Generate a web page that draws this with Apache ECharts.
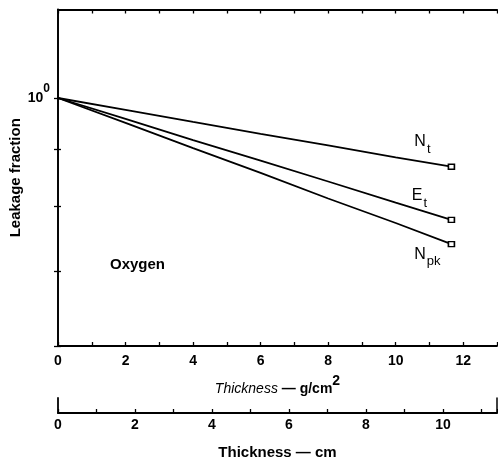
<!DOCTYPE html>
<html>
<head>
<meta charset="utf-8">
<script src="https://cdn.jsdelivr.net/npm/echarts@6/dist/echarts.min.js"></script>
<style>
html,body{margin:0;padding:0;background:#fff;}
#c{width:498px;height:462px;}
</style>
</head>
<body>
<div id="c"></div>
<script>
// Thickness (g/cm^2) sample positions and leakage fractions
const thickness = [0, 2, 4, 6, 8, 10, 11.65];
const nT  = [1.0, 0.976, 0.952, 0.929, 0.907, 0.885, 0.868];
const eT  = [1.0, 0.958, 0.917, 0.879, 0.842, 0.806, 0.778];
const nPk = [1.0, 0.950, 0.902, 0.857, 0.813, 0.773, 0.740];
const seriesNames = ['N_t', 'E_t', 'N_pk'];
const xTicksGcm = [0, 2, 4, 6, 8, 10, 12];
const xTicksCm = [0, 2, 4, 6, 8, 10];
const yTicks = [0.6, 0.7, 0.8, 0.9, 1.0];
const density = 1.14; // g/cm^3, liquid oxygen (converts g/cm^2 to cm)

const FONT = 'Liberation Sans';
const chart = echarts.init(document.getElementById('c'), null, {renderer: 'canvas'});

const labelRich = {
  b: {fontFamily: FONT, fontSize: 16, color: '#000', lineHeight: 16, verticalAlign: 'top'},
  s: {fontFamily: FONT, fontSize: 13, color: '#000', padding: [9, 0, 0, 1], lineHeight: 13, verticalAlign: 'top'}
};
const labelTexts = ['{b|N}{s|t}', '{b|E}{s|t}', '{b|N}{s|pk}'];
const labelOffsets = [[-29, -25], [-32, -24], [-24, 10]];

function mkSeries(vals, idx) {
  return {
    type: 'line',
    name: seriesNames[idx],
    xAxisIndex: 0, yAxisIndex: 0,
    symbol: 'none',
    lineStyle: {color: '#000', width: 1.8},
    silent: true,
    animation: false,
    z: 5,
    data: vals.map((v, i) => {
      const item = {value: [thickness[i], v]};
      if (i === vals.length - 1) {
        item.symbol = 'rect';
        item.symbolSize = [6, 5];
        item.itemStyle = {color: '#fff', borderColor: '#000', borderWidth: 1.5};
        item.label = {
          show: true, position: 'inside', offset: labelOffsets[idx],
          formatter: labelTexts[idx], rich: labelRich
        };
      }
      return item;
    })
  };
}

const xMax = 13;
const option = {
  animation: false,
  backgroundColor: '#fff',
  grid: [
    {left: 58, right: 1, top: 9.5, bottom: 116, outerBoundsMode: 'none', containLabel: false},
    {left: 58, right: 1, top: 398, height: 15, outerBoundsMode: 'none', containLabel: false}
  ],
  xAxis: [
    {
      type: 'value', gridIndex: 0, position: 'bottom', min: 0, max: xMax, interval: 1,
      axisLine: {lineStyle: {color: '#000', width: 1.8}},
      axisTick: {inside: true, length: 4, lineStyle: {color: '#000', width: 1.3}},
      axisLabel: {
        color: '#000', fontFamily: FONT, fontSize: 14, fontWeight: 'bold', margin: 8,
        formatter: v => xTicksGcm.indexOf(v) >= 0 ? String(v) : ''
      },
      splitLine: {show: false},
      name: '{t|Thickness}{d| — }{u|g/cm}{p|2}',
      nameLocation: 'middle', nameGap: 28,
      nameTextStyle: {
        rich: {
          t: {fontFamily: FONT, fontSize: 14, fontStyle: 'italic', color: '#000', padding: [8, 0, 0, 0], verticalAlign: 'top', lineHeight: 14},
          d: {fontFamily: FONT, fontSize: 14, fontWeight: 'bold', color: '#000', padding: [8, 0, 0, 0], verticalAlign: 'top', lineHeight: 14},
          u: {fontFamily: FONT, fontSize: 14, fontWeight: 'bold', color: '#000', padding: [8, 0, 0, 0], verticalAlign: 'top', lineHeight: 14},
          p: {fontFamily: FONT, fontSize: 14, fontWeight: 'bold', color: '#000', verticalAlign: 'top', lineHeight: 14}
        }
      }
    },
    {
      type: 'value', gridIndex: 0, position: 'top', min: 0, max: xMax, interval: 1,
      axisLine: {lineStyle: {color: '#000', width: 1.8}},
      axisTick: {inside: true, length: 4, lineStyle: {color: '#000', width: 1.3}},
      axisLabel: {show: false},
      splitLine: {show: false}
    },
    {
      type: 'value', gridIndex: 1, position: 'bottom', min: 0, max: xMax / density, interval: 1,
      axisLine: {lineStyle: {color: '#000', width: 1.8}},
      axisTick: {inside: true, length: 4, lineStyle: {color: '#000', width: 1.3}},
      axisLabel: {
        color: '#000', fontFamily: FONT, fontSize: 14, fontWeight: 'bold', margin: 5,
        formatter: v => xTicksCm.indexOf(v) >= 0 ? String(v) : ''
      },
      splitLine: {show: false},
      name: 'Thickness — cm',
      nameLocation: 'middle', nameGap: 32,
      nameTextStyle: {fontFamily: FONT, fontSize: 15, fontWeight: 'bold', color: '#000'}
    }
  ],
  yAxis: [
    {
      type: 'log', gridIndex: 0, position: 'left', min: 0.6, max: 1.2, logBase: 10,
      axisLine: {show: true, lineStyle: {color: '#000', width: 1.8}},
      axisTick: {show: true, inside: true, length: 3, customValues: yTicks, lineStyle: {color: '#000', width: 1.3}},
      axisLabel: {
        show: true, customValues: [1.0], margin: 8,
        formatter: () => '{a|10}{e|0}',
        rich: {
          a: {fontFamily: FONT, fontSize: 14, fontWeight: 'bold', color: '#000', padding: [8, 0, 8, 0], verticalAlign: 'top'},
          e: {fontFamily: FONT, fontSize: 12, fontWeight: 'bold', color: '#000', verticalAlign: 'top'}
        }
      },
      splitLine: {show: false},
      name: 'Leakage fraction',
      nameLocation: 'middle', nameGap: 35, nameMoveOverlap: false,
      nameTextStyle: {fontFamily: FONT, fontSize: 15, fontWeight: 'bold', color: '#000'}
    },
    {
      type: 'log', gridIndex: 0, position: 'right', min: 0.6, max: 1.2, logBase: 10,
      axisLine: {show: true, lineStyle: {color: '#000', width: 1.5}},
      axisTick: {show: true, inside: true, length: 4, customValues: yTicks, lineStyle: {color: '#000', width: 1.3}},
      axisLabel: {show: false},
      splitLine: {show: false}
    },
    {
      type: 'value', gridIndex: 1, position: 'left', min: 0, max: 1,
      axisLine: {show: true, lineStyle: {color: '#000', width: 1.8}},
      axisTick: {show: false}, axisLabel: {show: false}, splitLine: {show: false}
    },
    {
      type: 'value', gridIndex: 1, position: 'right', min: 0, max: 1,
      axisLine: {show: true, lineStyle: {color: '#000', width: 1.5}},
      axisTick: {show: false}, axisLabel: {show: false}, splitLine: {show: false}
    }
  ],
  graphic: [
    {
      type: 'text', left: 110, top: 257,
      style: {text: 'Oxygen', fontFamily: FONT, fontSize: 15, fontWeight: 'bold', fill: '#000'}
    }
  ],
  series: [mkSeries(nT, 0), mkSeries(eT, 1), mkSeries(nPk, 2)]
};
chart.setOption(option);
</script>
</body>
</html>
